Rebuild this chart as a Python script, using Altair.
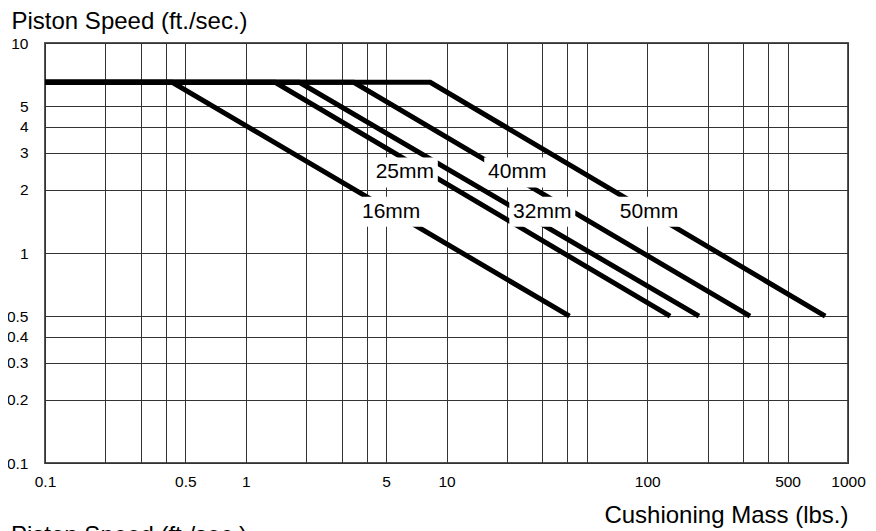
import altair as alt
import pandas as pd

# ---- data ----
bore_sizes = ["16mm", "25mm", "32mm", "40mm", "50mm"]
knee_mass = [0.43, 1.4, 1.85, 3.45, 8.3]      # where each curve leaves the max-speed line
end_mass = [41, 130, 181, 325, 770]           # mass at the 0.5 ft/s end point
start_mass = 0.1
max_speed = 6.5
end_speed = 0.5

label_mass = [5.3, 6.2, 30, 22.5, 102]
label_speed = [1.57, 2.42, 1.57, 2.42, 1.57]

x_grid = [0.1, 0.2, 0.3, 0.4, 0.5, 1, 2, 3, 4, 5, 10, 20, 30, 40, 50,
          100, 200, 300, 400, 500, 1000]
x_labels = [0.1, 0.5, 1, 5, 10, 100, 500, 1000]
y_grid = [0.1, 0.2, 0.3, 0.4, 0.5, 1, 2, 3, 4, 5, 10]

rows = []
for s, k, e in zip(bore_sizes, knee_mass, end_mass):
    rows.append(dict(size=s, i=0, mass=start_mass, speed=max_speed))
    rows.append(dict(size=s, i=1, mass=k, speed=max_speed))
    rows.append(dict(size=s, i=2, mass=e, speed=end_speed))
lines_df = pd.DataFrame(rows)
labels_df = pd.DataFrame(dict(size=bore_sizes, mass=label_mass, speed=label_speed))
next_title_df = pd.DataFrame({"t": ["Piston Speed (ft./sec.)"]})

FONT = "Liberation Sans"
TICK_SIZE = 15.5
TITLE_SIZE = 24

xscale = alt.Scale(type="log", domain=[0.1, 1000], nice=False)
yscale = alt.Scale(type="log", domain=[0.1, 10], nice=False)

common_axis = dict(
    grid=True, gridColor="#333333", gridWidth=1, domain=False, ticks=False,
    labelFont=FONT, labelFontSize=TICK_SIZE, labelColor="black",
    labelFlush=False, labelOverlap=False, format="~g",
    titleFont=FONT, titleFontSize=TITLE_SIZE, titleFontWeight="normal",
    titleColor="black", titleBaseline="alphabetic",
)

label_list = ",".join(str(v) for v in x_labels)
x_axis = alt.Axis(
    values=x_grid,
    labelExpr=f"indexof([{label_list}], datum.value) >= 0 ? datum.label : ''",
    labelPadding=11,
    title="Cushioning Mass (lbs.)",
    titleX=803,
    titleY=59,
    titleAlign="right",
    titleAnchor="end",
    **common_axis,
)
y_axis = alt.Axis(
    values=y_grid,
    labelPadding=17,
    labelBaseline="middle",
    title="Piston Speed (ft./sec.)",
    titleAngle=0,
    titleAlign="left",
    titleX=-34,
    titleY=-15,
    **common_axis,
)

X = alt.X("mass:Q", scale=xscale, axis=x_axis)
Y = alt.Y("speed:Q", scale=yscale, axis=y_axis)

lines = alt.Chart(lines_df).mark_line(
    color="black", strokeWidth=5, strokeCap="butt", strokeJoin="miter"
).encode(
    x=X,
    y=Y,
    detail="size:N",
    order="i:Q",
)

box_path = "M-1,-0.4545L1,-0.4545L1,0.4545L-1,0.4545Z"
boxes = alt.Chart(labels_df).mark_point(
    shape=box_path, filled=True, color="white", opacity=1, size=66 * 66, strokeWidth=0
).encode(x=X, y=Y)

texts = alt.Chart(labels_df).mark_text(
    font=FONT, fontSize=21, color="black", align="center", baseline="middle"
).encode(x=X, y=Y, text="size:N")

next_title = alt.Chart(next_title_df).mark_text(
    font=FONT, fontSize=TITLE_SIZE, color="black", align="left", baseline="alphabetic"
).encode(
    x=alt.value(-34),
    y=alt.value(500),
    text="t:N",
)

chart = alt.layer(lines, boxes, texts, next_title).properties(
    width=803,
    height=420,
    autosize=alt.AutoSizeParams(type="none"),
    padding={"left": 37, "top": 35, "right": 20, "bottom": 68},
).configure_view(
    stroke="#555555",
    strokeWidth=2,
)

chart.save("out.html", embed_options={"renderer": "svg", "actions": False})
